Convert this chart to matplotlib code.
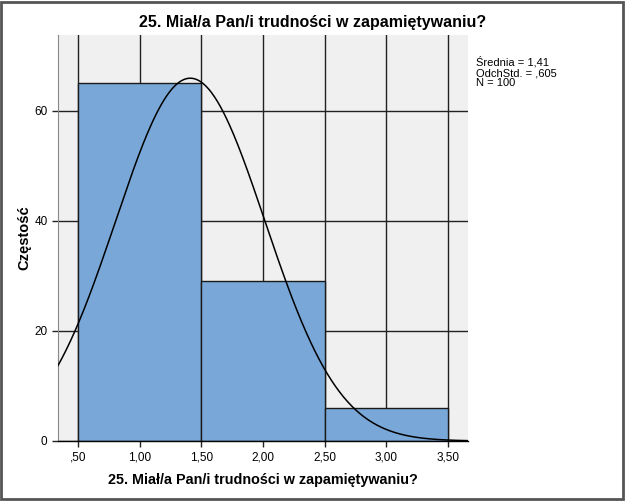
import matplotlib.pyplot as plt
import numpy as np
from matplotlib.patches import Rectangle

plt.rcParams['font.family'] = ['Liberation Sans', 'DejaVu Sans']

# dane
przedzialy = [0.5, 1.5, 2.5, 3.5]
liczebnosci = [65, 29, 6]
srednia = 1.41
odch_std = 0.605
n = 100
xtick_wart = [0.5, 1.0, 1.5, 2.0, 2.5, 3.0, 3.5]
xtick_etyk = [',50', '1,00', '1,50', '2,00', '2,50', '3,00', '3,50']
ytick_wart = [0, 20, 40, 60]
tytul = '25. Miał/a Pan/i trudności w zapamiętywaniu?'

fig = plt.figure(figsize=(6.26, 5.01), dpi=100)
ax = fig.add_axes([0.0927, 0.1198, 0.655, 0.8104])
ax.set_facecolor('#f0f0f0')

szer = np.diff(przedzialy)
ax.bar(przedzialy[:-1], liczebnosci, width=szer, align='edge',
       color='#79a8d8', edgecolor='#1a1a1a', linewidth=1, zorder=2)

# krzywa normalna
xlim = (0.338, 3.662)
xs = np.linspace(xlim[0], xlim[1], 400)
ys = n * szer[0] / (odch_std * np.sqrt(2 * np.pi)) * np.exp(-(xs - srednia) ** 2 / (2 * odch_std ** 2))
ax.plot(xs, ys, color='black', linewidth=1.1, zorder=3)

ax.set_xlim(*xlim)
ax.set_ylim(0, 73.8)
ax.set_xticks(xtick_wart)
ax.set_xticklabels(xtick_etyk)
ax.set_yticks(ytick_wart)
ax.grid(True, color='#222222', linewidth=1)
ax.set_axisbelow(True)
ax.tick_params(labelsize=8.5, length=4, width=1, color='#222222')

for s in ['top', 'right']:
    ax.spines[s].set_visible(False)
ax.spines['left'].set_color('#888888')
ax.spines['left'].set_linewidth(0.8)
ax.spines['bottom'].set_color('black')
ax.spines['bottom'].set_linewidth(1)

ax.set_xlabel(tytul, fontsize=10.4, fontweight='bold', labelpad=7)
ax.set_ylabel('Częstość', fontsize=10.5, fontweight='bold')
ax.yaxis.set_label_coords(-0.066, 0.5)
fig.text(0.5, 0.955, tytul, ha='center', va='center', fontsize=11.5, fontweight='bold')

statystyki = 'Średnia = 1,41\nOdchStd. = ,605\nN = 100'
fig.text(0.76, 0.888, statystyki, ha='left', va='top', fontsize=8, linespacing=1.05)

fig.add_artist(Rectangle((0.002, 0.004), 0.994, 0.993, transform=fig.transFigure,
                         fill=False, edgecolor='#555555', linewidth=2))

fig.savefig('out.png', dpi=100)
